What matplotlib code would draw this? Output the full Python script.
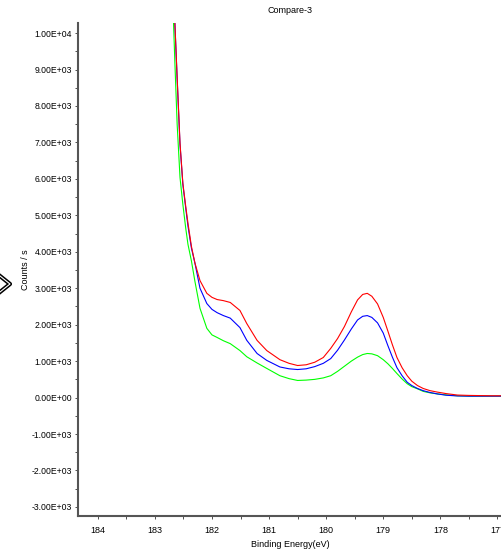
import matplotlib
matplotlib.use("Agg")
import matplotlib.pyplot as plt
from matplotlib.ticker import MultipleLocator, FuncFormatter
from matplotlib.lines import Line2D

plt.rcParams["font.family"] = ["Liberation Sans", "DejaVu Sans"]

energy = [182.70, 182.65, 182.61, 182.56, 182.51, 182.46, 182.42, 182.36, 182.30, 182.21,
          182.09, 182.00, 181.91, 181.80, 181.68, 181.51, 181.39, 181.21, 181.04, 180.81,
          180.65, 180.50, 180.35, 180.20, 180.05, 179.92, 179.80, 179.68, 179.56, 179.45,
          179.36, 179.28, 179.20, 179.10, 179.00, 178.92, 178.84, 178.76, 178.67, 178.58,
          178.50, 178.40, 178.30, 178.18, 178.05, 177.90, 177.70, 177.50, 177.30, 177.10,
          176.90]

red_counts = [12000, 10275, 8790, 6980, 5880, 5250, 4780, 4150, 3700, 3210,
              2860, 2750, 2690, 2660, 2610, 2390, 2030, 1570, 1290, 1040,
              940, 880, 900, 970, 1100, 1350, 1620, 1950, 2350, 2680,
              2830, 2860, 2780, 2570, 2200, 1830, 1450, 1100, 820, 600,
              450, 330, 250, 190, 150, 110, 70, 60, 55, 50,
              50]

blue_counts = [12000, 10275, 8750, 6950, 5850, 5200, 4700, 4100, 3700, 3000,
               2580, 2420, 2330, 2250, 2180, 1920, 1570, 1210, 1020, 840,
               790, 770, 790, 850, 940, 1070, 1300, 1580, 1880, 2130,
               2230, 2250, 2200, 2050, 1770, 1430, 1110, 820, 600, 420,
               330, 250, 190, 140, 100, 65, 45, 40, 40, 40,
               40]

green_counts = [11500, 9200, 7500, 6040, 5300, 4650, 4200, 3750, 3200, 2450,
                1900, 1720, 1650, 1560, 1480, 1290, 1120, 950, 800, 600,
                520, 470, 480, 500, 540, 600, 720, 860, 1000, 1110,
                1180, 1210, 1200, 1150, 1040, 930, 800, 660, 510, 380,
                300, 240, 170, 130, 100, 75, 50, 40, 40, 40,
                40]

fig = plt.figure(figsize=(5.02, 5.49), dpi=100)
ax = fig.add_axes([0.155, 0.060, 0.845, 0.898])

ax.plot(energy, green_counts, color="#00ff00", lw=0.8)
ax.plot(energy, blue_counts, color="#0000ff", lw=0.8)
ax.plot(energy, red_counts, color="#ff0000", lw=0.8)

ax.set_xlim(184.35, 176.92)
ax.set_ylim(-3250, 10275)

ax.xaxis.set_major_locator(MultipleLocator(1))
ax.xaxis.set_minor_locator(MultipleLocator(0.5))
ax.yaxis.set_major_locator(MultipleLocator(1000))
ax.yaxis.set_minor_locator(MultipleLocator(500))
ax.yaxis.set_major_formatter(FuncFormatter(lambda v, p: f"{v:.2E}"))
ax.xaxis.set_major_formatter(FuncFormatter(lambda v, p: f"{v:.0f}"))

ax.tick_params(which="both", direction="out", length=2, width=0.6, color="#333333",
               labelsize=6.2, pad=2)
ax.tick_params(axis="x", labelsize=6.5, pad=5)

for s in ["top", "right"]:
    ax.spines[s].set_visible(False)
for s in ["left", "bottom"]:
    ax.spines[s].set_color("#555555")
    ax.spines[s].set_linewidth(1.5)

ax.set_title("Compare-3", fontsize=6.5, pad=7)
ax.set_xlabel("Binding Energy(eV)", fontsize=6.5, labelpad=4)
ax.set_ylabel("Counts / s", fontsize=6.5, labelpad=1)

# the little chevron marker at the left edge
W, H = 502, 549
px = [0, 10, 0]
py = [276, 284, 292]
fig.add_artist(Line2D([p / W for p in px], [1 - p / H for p in py], color="black", lw=3,
                      transform=fig.transFigure))
fig.add_artist(Line2D([p / W for p in px], [1 - p / H for p in py], color="white", lw=0.8,
                      transform=fig.transFigure))

fig.savefig("out.png", dpi=100)
